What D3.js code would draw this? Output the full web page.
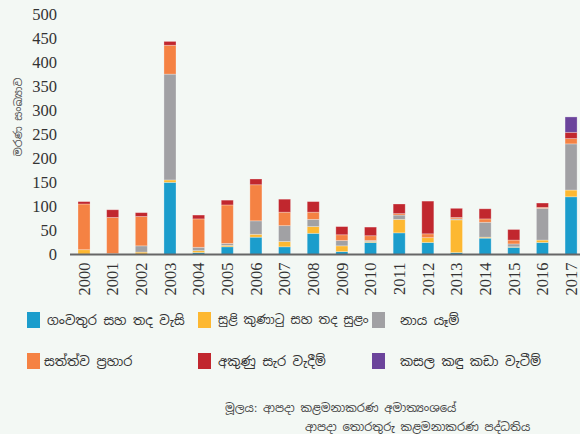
<!DOCTYPE html>
<html>
<head>
<meta charset="utf-8">
<script src="https://cdn.jsdelivr.net/npm/d3@7"></script>
<style>
  body { margin: 0; background: #f3f8f4; }
  svg { display: block; }
</style>
</head>
<body>
<div id="chart"></div>
<script>
// data
const years = ["2000","2001","2002","2003","2004","2005","2006","2007","2008","2009","2010","2011","2012","2013","2014","2015","2016","2017"];
const flood     = [1, 0, 1, 150, 4, 16, 36, 16, 44, 6, 25, 45, 25, 4, 34, 15, 25, 120];
const cyclone   = [9, 0, 4, 5, 4, 3, 6, 11, 14, 12, 2, 28, 10, 68, 2, 1, 5, 14];
const landslide = [0, 2, 13, 220, 7, 4, 28, 33, 15, 11, 2, 9, 0, 2, 31, 6, 66, 96];
const animal    = [95, 75, 61, 60, 59, 80, 75, 28, 15, 12, 10, 3, 8, 3, 7, 8, 2, 11];
const lightning = [5, 16, 8, 8, 8, 10, 12, 27, 22, 17, 18, 20, 68, 19, 21, 22, 9, 13];
const garbage   = [0, 0, 0, 0, 0, 0, 0, 0, 0, 0, 0, 0, 0, 0, 0, 0, 0, 32];

const seriesNames = ["ගංවතුර සහ තද වැසි", "සුළි කුණාටු සහ තද සුළං", "නාය යෑම්",
                     "සත්ත්ව ප්‍රහාර", "අකුණු සැර වැදීම්", "කසල කඳු කඩා වැටීම්"];
const colors = ["#1b9dcc", "#fdb831", "#a1a1a4", "#f58243", "#c1272e", "#6b449b"];
const yTicks = [0, 50, 100, 150, 200, 250, 300, 350, 400, 450, 500];

const keys = ["flood","cyclone","landslide","animal","lightning","garbage"];
const table = years.map((y, i) => ({
  year: y, flood: flood[i], cyclone: cyclone[i], landslide: landslide[i],
  animal: animal[i], lightning: lightning[i], garbage: garbage[i]
}));

const W = 580, H = 434;
const svg = d3.select("#chart").append("svg")
  .attr("width", W).attr("height", H);

const x = d3.scaleBand().domain(years).range([69.7, 585.4]).paddingInner(0.58).paddingOuter(0.29);
const y = d3.scaleLinear().domain([0, 500]).range([254.5, 14]);

const stack = d3.stack().keys(keys)(table);

// bars
svg.append("g").selectAll("g")
  .data(stack)
  .enter().append("g")
    .attr("fill", (d, i) => colors[i])
  .selectAll("rect")
  .data(d => d.filter(s => s[1] - s[0] > 0))
  .enter().append("rect")
    .attr("x", d => x(d.data.year))
    .attr("width", x.bandwidth())
    .attr("y", d => y(d[1]))
    .attr("height", d => y(d[0]) - y(d[1]))
    .attr("stroke", "rgba(255,255,255,0.35)")
    .attr("stroke-width", 0.8);

// y axis labels
const yAxis = svg.append("g")
  .attr("transform", "translate(57,0)")
  .call(d3.axisLeft(y).tickValues(yTicks).tickSize(0).tickPadding(0));
yAxis.select(".domain").remove();
yAxis.selectAll("text")
  .attr("font-family", "Liberation Serif, serif")
  .attr("font-size", 16.5)
  .attr("fill", "#333");

// x axis
const xAxis = svg.append("g")
  .attr("transform", "translate(0,254.5)")
  .call(d3.axisBottom(x).tickSize(0).tickPadding(0));
xAxis.select(".domain")
  .attr("d", "M70,0H580")
  .attr("stroke", "#666")
  .attr("stroke-width", 2);
xAxis.selectAll("text")
  .attr("font-family", "Liberation Serif, serif")
  .attr("font-size", 16.5)
  .attr("fill", "#333")
  .attr("transform", "rotate(-90)")
  .attr("text-anchor", "end")
  .attr("x", -8)
  .attr("y", 0)
  .attr("dy", "0.35em");

// y axis title
svg.append("text")
  .attr("transform", "translate(18,117) rotate(-90)")
  .attr("text-anchor", "middle")
  .attr("dy", "0.35em")
  .attr("font-family", "Noto Sans Sinhala, Noto Sans, sans-serif")
  .attr("font-size", 11)
  .attr("fill", "#555")
  .text("මරණ සංඛ්‍යාව");

// legend
const legX = [27, 198, 372], legY = [320, 361];
const textX = [47, 218, 400];
const leg = svg.append("g").selectAll("g")
  .data(seriesNames)
  .enter().append("g");
leg.append("rect")
  .attr("x", (d, i) => legX[i % 3])
  .attr("y", (d, i) => legY[Math.floor(i / 3)] - 8)
  .attr("width", 13).attr("height", 16)
  .attr("fill", (d, i) => colors[i]);
leg.append("text")
  .attr("x", (d, i) => textX[i % 3] - (i === 3 ? 3 : 0))
  .attr("y", (d, i) => legY[Math.floor(i / 3)])
  .attr("dy", "0.35em")
  .attr("font-family", "Noto Sans Sinhala, Noto Sans, sans-serif")
  .attr("font-size", (d, i) => i === 1 ? 12.3 : 13)
  .attr("fill", "#333")
  .text(d => d);

// source
const src = svg.append("g")
  .attr("font-family", "Noto Sans Sinhala, Noto Sans, sans-serif")
  .attr("font-size", 11.5)
  .attr("fill", "#444");
src.append("text").attr("x", 225).attr("y", 412).text("මූලය: ආපදා කළමනාකරණ අමාත්‍යංශයේ");
src.append("text").attr("x", 305).attr("y", 431).text("ආපදා තොරතුරු කළමනාකරණ පද්ධතිය");
</script>
</body>
</html>
